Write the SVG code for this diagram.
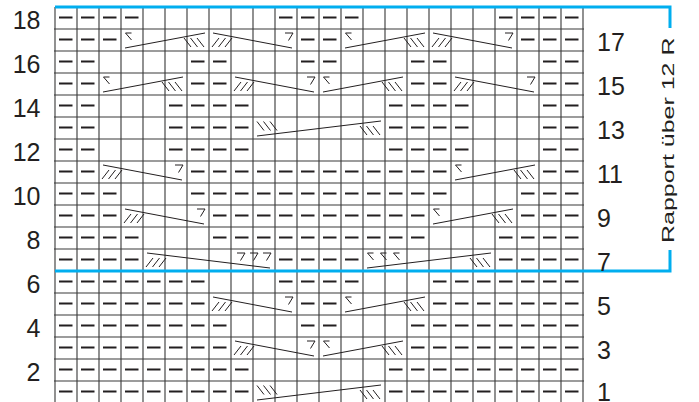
<svg xmlns="http://www.w3.org/2000/svg" width="699" height="402" viewBox="0 0 699 402">
<style>
.vg{stroke:#858585;stroke-width:1.8;fill:none}
.hg{stroke:#3b3b3b;stroke-width:1.2;fill:none}
.pu{stroke:#231f20;stroke-width:2;fill:none}
.cb{stroke:#231f20;stroke-width:1;fill:none}
.bl{stroke:#00aeef;stroke-width:3;fill:none;stroke-linejoin:miter}
.num{font-family:"Liberation Sans",Arial,sans-serif;font-size:25px;fill:#231f20}
.rep{font-family:"Liberation Sans",Arial,sans-serif;font-size:17px;fill:#231f20}
</style>
<defs>
<path id="bs" d="M0,0l7,9M6.5,0l7,9M13,0l7,9"/>
<path id="fs" d="M0,9l7,-9M6.5,9l7,-9M13,9l7,-9"/>
<path id="sv" d="M0,0h8l-4.5,7.5"/>
<path id="lt" d="M6,0H0l6,7"/>
</defs>
<rect width="699" height="402" fill="#ffffff"/>
<g id="grid">
<path class="vg" d="M55,7V402M77,7V402M99,7V402M121,7V402M143,7V402M165,7V402M187,7V402M209,7V402M231,7V402M253,7V402M275,7V402M297,7V402M319,7V402M341,7V402M363,7V402M385,7V402M407,7V402M429,7V402M451,7V402M473,7V402M495,7V402M517,7V402M539,7V402M561,7V402M583,7V402"/>
<path class="hg" d="M54,29H584M54,51H584M54,73H584M54,95H584M54,117H584M54,139H584M54,161H584M54,183H584M54,205H584M54,227H584M54,249H584M54,293H584M54,315H584M54,337H584M54,359H584M54,381H584"/>
</g>
<g id="purls" class="pu">
<path d="M59,17.5h13.5M81,17.5h13.5M103,17.5h13.5M125,17.5h13.5M279,17.5h13.5M301,17.5h13.5M323,17.5h13.5M345,17.5h13.5M499,17.5h13.5M521,17.5h13.5M543,17.5h13.5M565,17.5h13.5"/>
<path d="M59,39.5h13.5M81,39.5h13.5M103,39.5h13.5M301,39.5h13.5M323,39.5h13.5M521,39.5h13.5M543,39.5h13.5M565,39.5h13.5"/>
<path d="M59,61.5h13.5M81,61.5h13.5M191,61.5h13.5M213,61.5h13.5M301,61.5h13.5M323,61.5h13.5M411,61.5h13.5M433,61.5h13.5M543,61.5h13.5M565,61.5h13.5"/>
<path d="M59,83.5h13.5M81,83.5h13.5M191,83.5h13.5M213,83.5h13.5M411,83.5h13.5M433,83.5h13.5M543,83.5h13.5M565,83.5h13.5"/>
<path d="M59,105.5h13.5M81,105.5h13.5M169,105.5h13.5M191,105.5h13.5M213,105.5h13.5M235,105.5h13.5M389,105.5h13.5M411,105.5h13.5M433,105.5h13.5M455,105.5h13.5M543,105.5h13.5M565,105.5h13.5"/>
<path d="M59,127.5h13.5M81,127.5h13.5M169,127.5h13.5M191,127.5h13.5M213,127.5h13.5M235,127.5h13.5M389,127.5h13.5M411,127.5h13.5M433,127.5h13.5M455,127.5h13.5M543,127.5h13.5M565,127.5h13.5"/>
<path d="M59,149.5h13.5M81,149.5h13.5M169,149.5h13.5M191,149.5h13.5M213,149.5h13.5M235,149.5h13.5M389,149.5h13.5M411,149.5h13.5M433,149.5h13.5M455,149.5h13.5M543,149.5h13.5M565,149.5h13.5"/>
<path d="M59,171.5h13.5M81,171.5h13.5M191,171.5h13.5M213,171.5h13.5M235,171.5h13.5M257,171.5h13.5M279,171.5h13.5M301,171.5h13.5M323,171.5h13.5M345,171.5h13.5M367,171.5h13.5M389,171.5h13.5M411,171.5h13.5M433,171.5h13.5M543,171.5h13.5M565,171.5h13.5"/>
<path d="M59,193.5h13.5M81,193.5h13.5M103,193.5h13.5M191,193.5h13.5M213,193.5h13.5M235,193.5h13.5M257,193.5h13.5M279,193.5h13.5M301,193.5h13.5M323,193.5h13.5M345,193.5h13.5M367,193.5h13.5M389,193.5h13.5M411,193.5h13.5M433,193.5h13.5M521,193.5h13.5M543,193.5h13.5M565,193.5h13.5"/>
<path d="M59,215.5h13.5M81,215.5h13.5M103,215.5h13.5M213,215.5h13.5M235,215.5h13.5M257,215.5h13.5M279,215.5h13.5M301,215.5h13.5M323,215.5h13.5M345,215.5h13.5M367,215.5h13.5M389,215.5h13.5M411,215.5h13.5M521,215.5h13.5M543,215.5h13.5M565,215.5h13.5"/>
<path d="M59,237.5h13.5M81,237.5h13.5M103,237.5h13.5M125,237.5h13.5M213,237.5h13.5M235,237.5h13.5M257,237.5h13.5M279,237.5h13.5M301,237.5h13.5M323,237.5h13.5M345,237.5h13.5M367,237.5h13.5M389,237.5h13.5M411,237.5h13.5M499,237.5h13.5M521,237.5h13.5M543,237.5h13.5M565,237.5h13.5"/>
<path d="M59,259.5h13.5M81,259.5h13.5M103,259.5h13.5M125,259.5h13.5M279,259.5h13.5M301,259.5h13.5M323,259.5h13.5M345,259.5h13.5M499,259.5h13.5M521,259.5h13.5M543,259.5h13.5M565,259.5h13.5"/>
<path d="M59,281.5h13.5M81,281.5h13.5M103,281.5h13.5M125,281.5h13.5M147,281.5h13.5M169,281.5h13.5M191,281.5h13.5M279,281.5h13.5M301,281.5h13.5M323,281.5h13.5M345,281.5h13.5M433,281.5h13.5M455,281.5h13.5M477,281.5h13.5M499,281.5h13.5M521,281.5h13.5M543,281.5h13.5M565,281.5h13.5"/>
<path d="M59,303.5h13.5M81,303.5h13.5M103,303.5h13.5M125,303.5h13.5M147,303.5h13.5M169,303.5h13.5M191,303.5h13.5M301,303.5h13.5M323,303.5h13.5M433,303.5h13.5M455,303.5h13.5M477,303.5h13.5M499,303.5h13.5M521,303.5h13.5M543,303.5h13.5M565,303.5h13.5"/>
<path d="M59,325.5h13.5M81,325.5h13.5M103,325.5h13.5M125,325.5h13.5M147,325.5h13.5M169,325.5h13.5M191,325.5h13.5M213,325.5h13.5M301,325.5h13.5M323,325.5h13.5M411,325.5h13.5M433,325.5h13.5M455,325.5h13.5M477,325.5h13.5M499,325.5h13.5M521,325.5h13.5M543,325.5h13.5M565,325.5h13.5"/>
<path d="M59,347.5h13.5M81,347.5h13.5M103,347.5h13.5M125,347.5h13.5M147,347.5h13.5M169,347.5h13.5M191,347.5h13.5M213,347.5h13.5M411,347.5h13.5M433,347.5h13.5M455,347.5h13.5M477,347.5h13.5M499,347.5h13.5M521,347.5h13.5M543,347.5h13.5M565,347.5h13.5"/>
<path d="M59,369.5h13.5M81,369.5h13.5M103,369.5h13.5M125,369.5h13.5M147,369.5h13.5M169,369.5h13.5M191,369.5h13.5M213,369.5h13.5M235,369.5h13.5M389,369.5h13.5M411,369.5h13.5M433,369.5h13.5M455,369.5h13.5M477,369.5h13.5M499,369.5h13.5M521,369.5h13.5M543,369.5h13.5M565,369.5h13.5"/>
<path d="M59,391.5h13.5M81,391.5h13.5M103,391.5h13.5M125,391.5h13.5M147,391.5h13.5M169,391.5h13.5M191,391.5h13.5M213,391.5h13.5M235,391.5h13.5M389,391.5h13.5M411,391.5h13.5M433,391.5h13.5M455,391.5h13.5M477,391.5h13.5M499,391.5h13.5M521,391.5h13.5M543,391.5h13.5M565,391.5h13.5"/>
</g>
<g id="cables" class="cb">
<path d="M125,48L205,33M213,33L292,48M345,48L425,33M433,33L512,48M103,92L183,77M235,77L314,92M323,92L403,77M455,77L534,92M257,136L381,121M103,165L182,180M455,180L535,165M125,209L204,224M433,224L513,209M147,253L270,268M367,268L491,253M213,297L292,312M345,312L425,297M235,341L314,356M323,356L403,341M257,400L381,385"/>
<use href="#lt" x="125.5" y="33"/><use href="#lt" x="345.5" y="33"/><use href="#lt" x="103.5" y="77"/><use href="#lt" x="323.5" y="77"/><use href="#lt" x="455.5" y="165"/><use href="#lt" x="433.5" y="209"/><use href="#lt" x="367.5" y="253"/><use href="#lt" x="380.5" y="253"/><use href="#lt" x="393.5" y="253"/><use href="#lt" x="345.5" y="297"/><use href="#lt" x="323.5" y="341"/>
<use href="#sv" x="285" y="33"/><use href="#sv" x="505" y="33"/><use href="#sv" x="307" y="77"/><use href="#sv" x="527" y="77"/><use href="#sv" x="175" y="165"/><use href="#sv" x="197" y="209"/><use href="#sv" x="237" y="253"/><use href="#sv" x="250" y="253"/><use href="#sv" x="263" y="253"/><use href="#sv" x="285" y="297"/><use href="#sv" x="307" y="341"/>
<use href="#bs" x="184" y="38"/><use href="#bs" x="404" y="38"/><use href="#bs" x="162" y="82"/><use href="#bs" x="382" y="82"/><use href="#bs" x="257" y="121.5"/><use href="#bs" x="360" y="126"/><use href="#bs" x="514" y="170"/><use href="#bs" x="492" y="214"/><use href="#bs" x="470" y="258"/><use href="#bs" x="404" y="302"/><use href="#bs" x="382" y="346"/><use href="#bs" x="257" y="385.5"/><use href="#bs" x="360" y="390"/>
<use href="#fs" x="212" y="38"/><use href="#fs" x="432" y="38"/><use href="#fs" x="234" y="82"/><use href="#fs" x="454" y="82"/><use href="#fs" x="102" y="170"/><use href="#fs" x="124" y="214"/><use href="#fs" x="146" y="258"/><use href="#fs" x="212" y="302"/><use href="#fs" x="234" y="346"/>
</g>
<g id="bracket" class="bl">
<path d="M55,7H670V28"/>
<path d="M55,271H670V250"/>
</g>
<g id="labels-left" class="num" text-anchor="end">
<text x="40.5" y="28.5">18</text>
<text x="40.5" y="72.5">16</text>
<text x="40.5" y="116.5">14</text>
<text x="40.5" y="160.5">12</text>
<text x="40.5" y="204.5">10</text>
<text x="40.5" y="248.5">8</text>
<text x="40.5" y="292.5">6</text>
<text x="40.5" y="336.5">4</text>
<text x="40.5" y="380.5">2</text>
</g>
<g id="labels-right" class="num">
<text x="597" y="50.5">17</text>
<text x="597" y="94.5">15</text>
<text x="597" y="138.5">13</text>
<text x="597" y="182.5">11</text>
<text x="597" y="226.5">9</text>
<text x="597" y="270.5">7</text>
<text x="597" y="314.5">5</text>
<text x="597" y="358.5">3</text>
<text x="597" y="401">1</text>
</g>
<g id="repeat-label">
<text class="rep" transform="translate(673.5,243) rotate(-90) scale(1.47,1)">Rapport über 12 R</text>
</g>
</svg>
